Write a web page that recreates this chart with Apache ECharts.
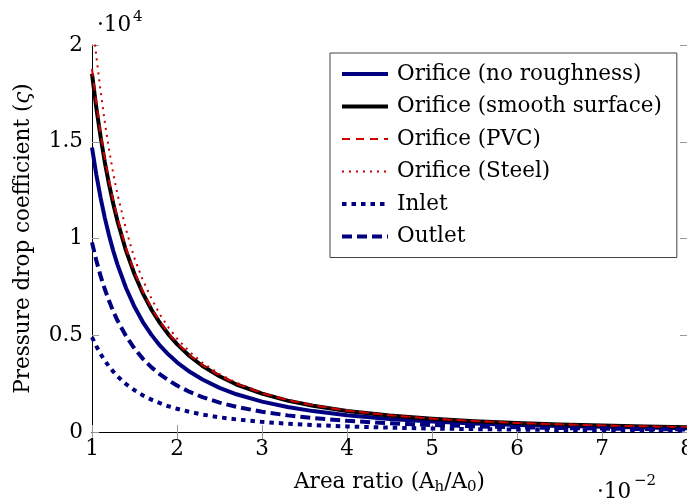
<!DOCTYPE html>
<html><head><meta charset="utf-8">
<script src="https://cdn.jsdelivr.net/npm/echarts@6/dist/echarts.min.js"></script>
<style>html,body{margin:0;padding:0;background:#fff}#c{width:687px;height:502px}</style>
</head><body><div id="c"></div>
<script>
// ---- data ----
const areaRatio = [0.010, 0.0105, 0.011, 0.0115, 0.012, 0.0125, 0.013, 0.014, 0.015, 0.016, 0.017, 0.018, 0.019, 0.020, 0.0215, 0.023, 0.025, 0.027, 0.030, 0.033, 0.036, 0.040, 0.045, 0.050, 0.055, 0.060, 0.065, 0.070, 0.075, 0.080];
const orificeNoRoughness = [14700, 13320, 12130, 11080, 10170, 9360, 8650, 7440, 6470, 5670, 5020, 4460, 4000, 3600, 3110, 2710, 2280, 1950, 1570, 1290, 1080, 864, 676, 542, 443, 368, 310, 265, 228, 198];
const orificeSmooth = [18520, 16785, 15280, 13965, 12810, 11795, 10890, 9370, 8150, 7148, 6320, 5630, 5039, 4540, 3915, 3410, 2880, 2455, 1980, 1623, 1355, 1090, 851, 682, 558, 463, 391, 335, 287, 249];
const orificePVC = [18770, 17007, 15480, 14150, 12980, 11950, 11040, 9500, 8260, 7243, 6403, 5700, 5105, 4600, 3966, 3455, 2913, 2488, 2002, 1645, 1373, 1103, 862, 691, 565, 470, 396, 338, 291, 253];
const orificeSteel = [21460, 19450, 17660, 16030, 14610, 13360, 12280, 10470, 8970, 7830, 6890, 6070, 5400, 4830, 4140, 3580, 2996, 2546, 2038, 1671, 1391, 1112, 869, 697, 569, 473, 400, 342, 293, 255];
const inlet = [4900, 4440, 4040, 3690, 3390, 3120, 2880, 2480, 2160, 1890, 1670, 1490, 1330, 1200, 1040, 902, 760, 649, 523, 429, 358, 288, 225, 180, 148, 123, 103, 88, 76, 66];
const outlet = [9800, 8880, 8080, 7390, 6780, 6240, 5760, 4960, 4310, 3780, 3340, 2980, 2670, 2400, 2070, 1800, 1520, 1300, 1045, 859, 717, 576, 450, 361, 295, 245, 207, 177, 152, 132];
const seriesNames = ['Orifice (no roughness)', 'Orifice (smooth surface)', 'Orifice (PVC)', 'Orifice (Steel)', 'Inlet', 'Outlet'];
const xTickLabels = ['1', '2', '3', '4', '5', '6', '7', '8'];
const yTickLabels = ['0', '0.5', '1', '1.5', '2'];

const FONT = '"DejaVu Serif", serif';
const FS = 21.5;
const NAVY = '#000080';
const RED = '#cc0000';

const styles = [
  { color: NAVY, width: 4, type: 'solid' },
  { color: '#000', width: 4, type: 'solid' },
  { color: RED, width: 2, type: [8, 6] },
  { color: RED, width: 2, type: [2, 5] },
  { color: NAVY, width: 4, type: [4.5, 5] },
  { color: NAVY, width: 4, type: [10, 5] }
];
const seriesData = [orificeNoRoughness, orificeSmooth, orificePVC, orificeSteel, inlet, outlet];

function pairs(ys) { return areaRatio.map((x, i) => [x, ys[i]]); }

const chart = echarts.init(document.getElementById('c'), null, { renderer: 'canvas' });

const tickStyle = { show: true, inside: true, length: 7, lineStyle: { color: '#999', width: 1 } };
const axisLineStyle = { show: true, lineStyle: { color: '#000', width: 1 } };

chart.setOption({
  animation: false,
  backgroundColor: '#fff',
  grid: { left: 92, top: 45, right: 0, bottom: 70, containLabel: false, outerBoundsMode: 'none' },
  xAxis: [{
    type: 'value', min: 0.01, max: 0.08, interval: 0.01, position: 'bottom',
    axisLine: axisLineStyle, axisTick: tickStyle, splitLine: { show: false },
    axisLabel: { margin: 6, color: '#000', fontFamily: FONT, fontSize: FS,
      formatter: v => xTickLabels[Math.round(v * 100) - 1] },
    name: '{n|Area ratio (A}{s|h}{n|/A}{s|0}{n|)}', nameLocation: 'middle', nameGap: 37, nameMoveOverlap: false,
    nameTextStyle: { color: '#000', fontFamily: FONT, fontSize: FS,
      rich: { n: { fontFamily: FONT, fontSize: FS, lineHeight: 26, color: '#000' },
              s: { fontFamily: FONT, fontSize: 15, lineHeight: 12, verticalAlign: 'bottom', color: '#000' } } }
  }, {
    type: 'value', min: 0.01, max: 0.08, interval: 0.01, position: 'top',
    axisLine: axisLineStyle, axisTick: tickStyle, splitLine: { show: false }, axisLabel: { show: false }
  }],
  yAxis: [{
    type: 'value', min: 0, max: 20000, interval: 5000, position: 'left',
    axisLine: axisLineStyle, axisTick: tickStyle, splitLine: { show: false },
    axisLabel: { margin: 9, color: '#000', fontFamily: FONT, fontSize: FS,
      formatter: v => yTickLabels[Math.round(v / 5000)] },
    name: '{n|Pressure drop coefficient (}{i|ς}{n|)}', nameLocation: 'middle', nameGap: 58, nameRotate: 90, nameMoveOverlap: false,
    nameTextStyle: { color: '#000', fontFamily: FONT, fontSize: FS,
      rich: { n: { fontFamily: FONT, fontSize: FS, color: '#000' },
              i: { fontFamily: FONT, fontSize: FS, fontStyle: 'italic', color: '#000' } } }
  }, {
    type: 'value', min: 0, max: 20000, interval: 5000, position: 'right',
    axisLine: axisLineStyle, axisTick: tickStyle, splitLine: { show: false }, axisLabel: { show: false }
  }],
  legend: {
    orient: 'vertical', left: 330, top: 53,
    padding: [8, 15, 8, 10], itemGap: 6.5, itemWidth: 46, itemHeight: 14,
    backgroundColor: '#fff', borderColor: '#444', borderWidth: 1, borderRadius: 0,
    selectedMode: false,
    itemStyle: { opacity: 0, color: 'rgba(0,0,0,0)', borderWidth: 0 },
    textStyle: { fontFamily: FONT, fontSize: FS, color: '#000', lineHeight: 26, padding: [0, 0, 0, 4] },
    data: seriesNames.map((n, i) => ({
      name: n,
      lineStyle: { color: styles[i].color, width: styles[i].width, type: styles[i].type, cap: 'butt', opacity: 1 },
      itemStyle: { opacity: 0, color: 'rgba(0,0,0,0)', borderWidth: 0 }
    }))
  },
  graphic: [
    { type: 'text', x: 97, y: 14, style: { text: '·10', font: FS + 'px ' + FONT, fill: '#000', verticalAlign: 'top' } },
    { type: 'text', x: 133, y: 10, style: { text: '4', font: '15px ' + FONT, fill: '#000', verticalAlign: 'top' } },
    { type: 'text', x: 597, y: 481, style: { text: '·10', font: FS + 'px ' + FONT, fill: '#000', verticalAlign: 'top' } },
    { type: 'text', x: 634, y: 474, style: { text: '−2', font: '15px ' + FONT, fill: '#000', verticalAlign: 'top' } }
  ],
  series: seriesNames.map((n, i) => ({
    name: n, type: 'line', data: pairs(seriesData[i]), showSymbol: false, symbol: 'none',
    smooth: false, clip: true,
    lineStyle: { color: styles[i].color, width: styles[i].width, type: styles[i].type, cap: 'butt', join: 'round' },
    itemStyle: { color: styles[i].color },
    emphasis: { disabled: true }, animation: false
  }))
});
</script>
</body></html>
